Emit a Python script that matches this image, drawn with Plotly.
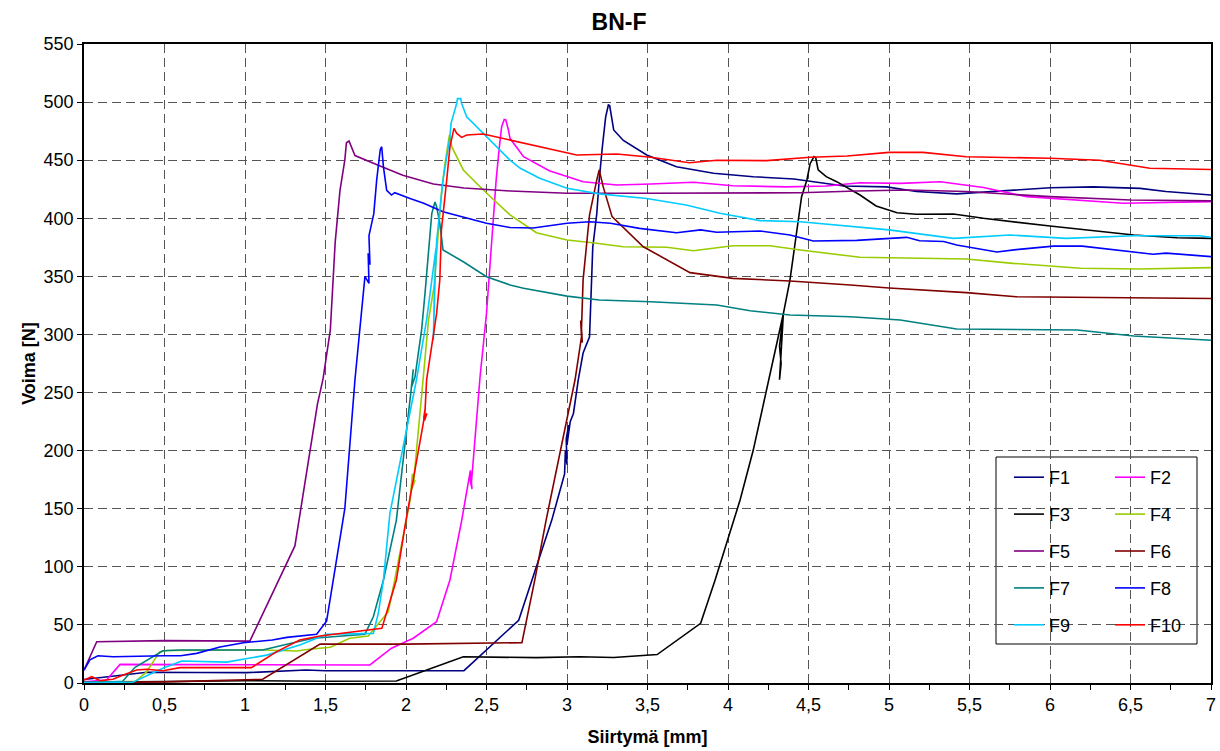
import plotly.graph_objects as go

# ---------------- data ----------------
names = ["F1", "F2", "F3", "F4", "F5", "F6", "F7", "F8", "F9", "F10"]

x1 = [0, 0.12, 0.24, 0.39, 0.7, 1.01, 1.38, 1.5, 1.9, 2.36, 2.7, 2.905, 2.985, 2.99, 3.0, 2.995, 3.01, 3.0, 3.02, 3.04,
      3.07, 3.1, 3.14, 3.147, 3.16, 3.185, 3.2, 3.22, 3.24, 3.257, 3.265, 3.29, 3.35, 3.495, 3.68, 3.91, 4.157, 4.41,
      4.72, 4.985, 5.17, 5.42, 5.69, 6.0, 6.27, 6.56, 6.72, 7.0]
y1 = [3, 5, 7, 9.2, 9, 8.9, 11.2, 10.5, 10.5, 10.6, 54, 140, 180, 200, 188, 210, 222, 205, 225, 232,
      261, 284, 298, 332, 375, 404, 433, 462, 487, 497.5, 497, 476, 467, 454.5, 444.4, 438.7, 435.8, 433.8,
      427.8, 427, 423, 421, 423.7, 426.3, 427, 425.7, 423, 420]

x2 = [0, 0.14, 0.224, 0.6, 1.0, 1.4, 1.776, 1.91, 2.045, 2.19, 2.273, 2.346, 2.4, 2.41, 2.395, 2.405, 2.46, 2.5, 2.53,
      2.56, 2.58, 2.594, 2.61, 2.62, 2.636, 2.646, 2.73, 2.89, 3.1, 3.31, 3.52, 3.785, 4.03, 4.36, 4.61, 4.82, 5.07,
      5.32, 5.586, 5.855, 6.455, 7.0]
y2 = [1, 2.6, 16, 16, 15.5, 16, 15.5, 30, 38.5, 52.8, 88.7, 140, 183, 167, 178, 170, 263.6, 318, 375.5,
      433, 461.6, 478.8, 485, 484.6, 476, 468.8, 453, 441, 431.5, 428.6, 429.5, 431, 428, 427, 427.8, 430.6, 430,
      431.5, 426.5, 418.6, 412.9, 414.3]

x3 = [0, 0.5, 1.0, 1.5, 1.94, 2.356, 2.81, 3.08, 3.29, 3.56, 3.83, 3.92, 4.075, 4.157, 4.24, 4.3, 4.344, 4.32, 4.33,
      4.32, 4.344, 4.385, 4.405, 4.437, 4.457, 4.49, 4.51, 4.534, 4.545, 4.56, 4.61, 4.675, 4.82, 4.92, 5.05, 5.17,
      5.4, 5.586, 6.0, 6.52, 6.79, 7.0]
y3 = [0.5, 1, 2, 1.5, 1.7, 22.6, 21.8, 22.6, 22, 24.5, 51.4, 88.7, 157.5, 200.5, 252, 289.5, 318, 290, 275,
      261, 318, 347, 367, 398.5, 418.6, 433, 447, 453, 452, 441.6, 435.8, 431.5, 420, 410.6, 404.8, 403.4,
      403.7, 400, 393.3, 385.6, 383.3, 382.7]

x4 = [0, 0.24, 0.32, 0.39, 0.47, 0.52, 1.11, 1.32, 1.4, 1.53, 1.65, 1.766, 1.89, 1.93, 2.01, 2.025, 2.04, 2.03, 2.056,
      2.045, 2.1, 2.14, 2.174, 2.2, 2.22, 2.242, 2.263, 2.27, 2.284, 2.356, 2.48, 2.646, 2.81, 3.0, 3.16, 3.35, 3.62,
      3.785, 4.03, 4.26, 4.45, 4.82, 5.48, 5.77, 6.19, 6.56, 7.0]
y4 = [0, 1.5, 1.5, 9.7, 27, 28, 28.4, 27.5, 29, 30.7, 38.5, 40.5, 61.4, 88.7, 146, 157, 180, 165, 175,
      170, 252, 312.5, 341, 390, 421.4, 447, 468.8, 471.7, 461.6, 441.6, 424.3, 403, 387.6, 381.3, 379, 375.5, 375,
      372, 376.4, 376.4, 372.7, 366.4, 365, 361.2, 357, 356.3, 357.5]

x5 = [0, 0.079, 0.5, 1.03, 1.31, 1.45, 1.485, 1.53, 1.56, 1.59, 1.62, 1.63, 1.646, 1.683, 1.82, 1.98, 2.17, 2.36,
      2.65, 3.0, 3.5, 4.0, 4.45, 4.8, 5.11, 5.48, 6.0, 6.5, 7.0]
y5 = [11, 35.5, 36.5, 36, 118, 240, 262, 304, 379, 424, 450, 465, 466.5, 454, 446, 437, 429.5, 426,
      423.5, 421.5, 421.5, 422, 422, 423.5, 424.3, 423, 418.6, 415.7, 415]

x6 = [0, 0.5, 1.11, 1.466, 2.0, 2.72, 2.8, 2.87, 3.05, 3.09, 3.085, 3.095, 3.09, 3.1, 3.14, 3.185, 3.2, 3.225, 3.28,
      3.474, 3.764, 4.03, 4.385, 4.76, 5.0, 5.48, 5.79, 7.0]
y6 = [0.5, 1, 3.2, 33.6, 33.5, 34.7, 88.7, 140, 261, 298, 312, 293, 305, 347, 403, 433, 441.6, 427, 401.4,
      375.5, 353.2, 348.3, 346, 342.6, 340, 336, 332.5, 331]

x7 = [0, 0.24, 0.317, 0.49, 0.6, 1.11, 1.28, 1.424, 1.745, 1.797, 1.86, 1.94, 2.03, 2.045, 2.035, 2.056, 2.097,
      2.118, 2.14, 2.16, 2.18, 2.19, 2.21, 2.23, 2.356, 2.5, 2.646, 2.73, 3.0, 3.2, 3.52, 3.93, 4.137, 4.385, 4.76,
      5.07, 5.42, 6.17, 6.52, 7.0]
y7 = [0, 1.5, 13.5, 27.8, 28.4, 28.4, 34, 38.5, 42, 57, 88.7, 140, 250, 270, 255, 263.6, 304,
      335.4, 375.5, 404, 414, 410, 395.7, 372.7, 362.6, 349.7, 342.6, 339.7, 333, 329.7, 328.2, 325.3, 320.4, 316.7,
      315.3, 312.4, 304.7, 303.8, 298.7, 295]

x8 = [0, 0.037, 0.087, 0.18, 0.5, 0.6, 0.7, 0.845, 0.99, 1.17, 1.26, 1.445, 1.507, 1.547, 1.62, 1.683, 1.714, 1.745,
      1.77, 1.765, 1.776, 1.77, 1.8, 1.818, 1.84, 1.849, 1.86, 1.88, 1.91, 1.93, 2.025, 2.11, 2.23, 2.35, 2.5, 2.646,
      2.79, 3.0, 3.14, 3.27, 3.45, 3.68, 3.83, 3.93, 4.2, 4.385, 4.53, 4.8, 5.11, 5.19, 5.34, 5.42, 5.67, 5.79, 6.02,
      6.2, 6.5, 6.64, 6.72, 7.0]
y8 = [11, 20, 23.5, 22.6, 23.5, 23.5, 25.5, 31, 34.7, 37, 39.3, 41.9, 53.4, 88.6, 150, 261, 304, 350,
      344, 370, 360, 385, 404, 433, 459, 461.6, 444, 424, 420, 422, 417, 413, 405.7, 401.4, 395.7, 392,
      391.6, 395.7, 397, 395.7, 391.3, 387.6, 390, 388, 389, 385.6, 380.5, 381, 383.6, 380.7, 380, 377, 371, 373, 376,
      376, 371, 369, 370, 367]

x9 = [0, 0.3, 0.49, 0.607, 0.886, 1.135, 1.34, 1.507, 1.797, 1.828, 1.86, 1.9, 2.065, 2.128, 2.186, 2.17, 2.175,
      2.19, 2.21, 2.23, 2.273, 2.28, 2.315, 2.32, 2.34, 2.345, 2.377, 2.48, 2.646, 2.71, 2.83, 3.0, 3.2, 3.495, 3.74,
      3.95, 4.2, 4.45, 5.0, 5.4, 5.75, 6.1, 6.52, 6.93, 7.0]
y9 = [0.5, 0.5, 12.6, 19, 18, 24, 32.7, 42, 42.7, 60, 88.7, 146, 261, 312.5, 374, 295, 330,
      380, 404, 433, 470, 481.7, 499, 503, 503, 499, 487.4, 473, 450, 443, 434.4, 425.8, 421, 417, 411.4,
      404.3, 398, 397, 390, 382.7, 385.6, 382.7, 385, 385, 383.6]

x10 = [0, 0.048, 0.1, 0.18, 0.244, 0.327, 0.39, 0.49, 0.596, 1.04, 1.197, 1.34, 1.466, 1.756, 1.85, 1.94, 2.0, 2.108,
       2.12, 2.11, 2.13, 2.115, 2.128, 2.16, 2.19, 2.21, 2.22, 2.253, 2.273, 2.298, 2.315, 2.346, 2.377, 2.48, 2.646,
       2.83, 3.06, 3.31, 3.52, 3.76, 3.93, 4.24, 4.51, 4.74, 5.0, 5.21, 5.48, 6.0, 6.31, 6.62, 7.0]
y10 = [2.5, 5.4, 2, 3.2, 6.9, 11.2, 11.8, 10.6, 13.2, 13.2, 27, 37, 40.5, 45.6, 47, 88.7, 140, 224,
       237, 228, 232, 226, 261, 289.5, 318, 347, 390, 433, 461.6, 477.4, 473, 469.6, 471.7, 472.5, 467.4,
       462, 454.5, 455.3, 452.5, 447.8, 450, 449.6, 452.5, 453.6, 456.7, 456.7, 453, 451.6, 450, 443, 442]

xs = [x1, x2, x3, x4, x5, x6, x7, x8, x9, x10]
ys = [y1, y2, y3, y4, y5, y6, y7, y8, y9, y10]
colors = ["#000080", "#FF00FF", "#000000", "#99CC00", "#800080",
          "#800000", "#008080", "#0000FF", "#00CCFF", "#FF0000"]

x_ticks = [0, 0.5, 1, 1.5, 2, 2.5, 3, 3.5, 4, 4.5, 5, 5.5, 6, 6.5, 7]
y_ticks = list(range(0, 551, 50))

FONT = "Arial, 'Liberation Sans', sans-serif"

# ---------------- figure ----------------
fig = go.Figure()
for i, (nm, xx, yy, c) in enumerate(zip(names, xs, ys, colors)):
    fig.add_trace(go.Scatter(
        x=xx, y=yy, mode="lines", name=nm,
        line=dict(color=c, width=1.6),
        legend="legend" if i % 2 == 0 else "legend2",
        legendgroup=nm,
    ))

L, R, T, B = 84, 9, 44, 68
W, H = 1220, 751
pw = W - L - R
ph = H - T - B


def px_to_paper_x(px):
    return (px - L) / pw


def py_to_paper_y(py):
    return (H - B - py) / ph


legend_common = dict(
    font=dict(family=FONT, size=18, color="#000000"),
    bgcolor="rgba(0,0,0,0)", borderwidth=0,
    xanchor="left", yanchor="top",
    traceorder="grouped", tracegroupgap=10.5,
    itemwidth=30,
)

fig.update_layout(
    width=W, height=H,
    margin=dict(l=L, r=R, t=T, b=B, autoexpand=False),
    paper_bgcolor="#FFFFFF", plot_bgcolor="#FFFFFF",
    separators=", ",
    font=dict(family=FONT, size=18, color="#000000"),
    title=dict(text="<b>BN-F</b>", font=dict(family=FONT, size=23, color="#000000"),
               x=619 / W, xref="container", xanchor="center",
               y=1 - 22 / H, yref="container", yanchor="middle"),
    legend=dict(x=px_to_paper_x(1009), y=py_to_paper_y(459), **legend_common),
    legend2=dict(x=px_to_paper_x(1110), y=py_to_paper_y(459), **legend_common),
    showlegend=True,
    xaxis=dict(
        range=[0, 7], tickvals=x_ticks, ticks="outside", ticklen=5, tickwidth=1,
        tickcolor="#000000", showline=True, linecolor="#000000", linewidth=1.5, mirror=True,
        showgrid=True, gridcolor="#555555", gridwidth=1, griddash="9px,5px",
        zeroline=False, tickfont=dict(family=FONT, size=18), automargin=False,
        minor=dict(dtick=0.25, tick0=0, ticks="outside", ticklen=5, tickcolor="#000000", showgrid=False),
        title=dict(text="<b>Siirtymä [mm]</b>", font=dict(family=FONT, size=18), standoff=16),
    ),
    yaxis=dict(
        range=[0, 550], tickvals=y_ticks, ticks="outside", ticklen=5, tickwidth=1,
        tickcolor="#000000", showline=True, linecolor="#000000", linewidth=1.5, mirror=True,
        showgrid=True, gridcolor="#555555", gridwidth=1, griddash="9px,5px",
        zeroline=False, tickfont=dict(family=FONT, size=18), automargin=False,
        title=dict(text="<b>Voima [N]</b>", font=dict(family=FONT, size=18), standoff=3),
    ),
    shapes=[dict(
        type="rect", xref="paper", yref="paper",
        x0=px_to_paper_x(996), x1=px_to_paper_x(1197),
        y0=py_to_paper_y(644), y1=py_to_paper_y(457),
        line=dict(color="#000000", width=1), fillcolor="#FFFFFF", layer="below",
    )],
)

fig.write_html("out.html")
